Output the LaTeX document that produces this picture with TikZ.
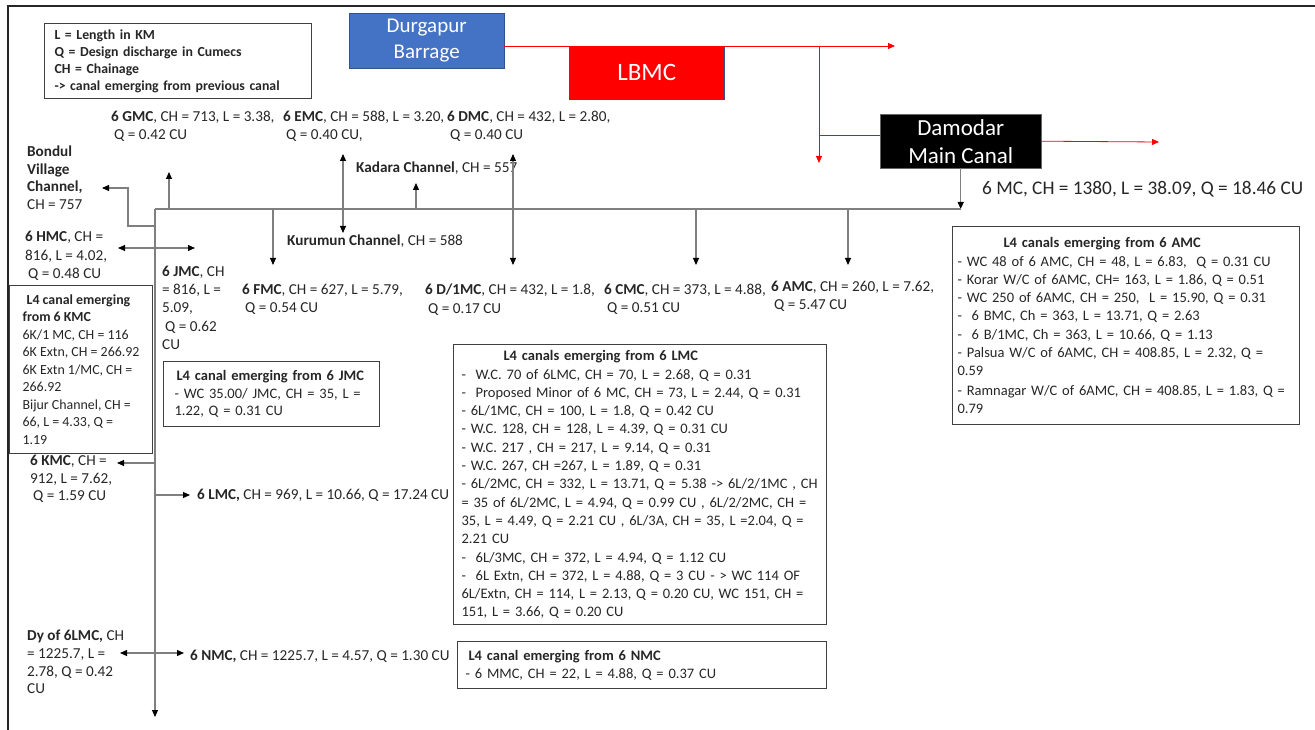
\documentclass[tikz,border=0pt]{standalone}
\usepackage{fontspec}
\setmainfont{Carlito}
\usetikzlibrary{positioning, arrows.meta, calc}

\definecolor{barrageblue}{HTML}{4472C4}
\definecolor{boxedge}{HTML}{2F528F}
\definecolor{linegray}{HTML}{7F7F7F}
\definecolor{txt}{HTML}{262626}

\tikzset{
  >={Triangle[length=7pt,width=6pt,color=black]},
  canal/.style={draw=linegray, line width=1.1pt},
  feed/.style={draw=red, line width=0.8pt, -{Triangle[length=7pt,width=6pt]}},
  lbl/.style={anchor=north west, inner sep=0pt, align=left, text=txt,
    font=\fontsize{15.2}{18.2}\selectfont},
  l4box/.style={draw=black!75, line width=1.1pt, anchor=north west, align=left,
    inner ysep=6pt, text=txt, font=\fontsize{14.5}{18.3}\selectfont},
  headbox/.style={fill=#1, draw=boxedge, text=white, align=center,
    anchor=north west, inner sep=0pt}
}

\begin{document}
\begin{tikzpicture}[x=1pt, y=-1pt]
  \useasboundingbox (0,0) rectangle (1315,730);
  % sheet edge
  \draw[line width=2.5pt, black!85] (8,730) -- (8,6) -- (1315,6);

  % legend
  \node[l4box, font=\bfseries\fontsize{13.8}{17}\selectfont, inner xsep=10pt,
    text width=247pt, minimum height=70pt] (legend) at (44,23)
    {L = Length in KM\\Q = Design discharge in Cumecs\\CH = Chainage\\-> canal emerging from previous canal};

  % head works
  \node[headbox=barrageblue, minimum width=155pt, minimum height=55pt,
    font=\fontsize{21}{26}\selectfont] (dgb) at (349,13) {Durgapur\\Barrage};
  \node[headbox=red, minimum width=155pt, minimum height=53pt,
    font=\fontsize{25}{30}\selectfont] (lbmc) at (569,46) {LBMC};
  \node[headbox=black, draw=black!60, minimum width=161pt, minimum height=54pt,
    font=\fontsize{23}{28}\selectfont] (damodar) at (880,114) {Damodar\\Main Canal};

  \coordinate (rstart) at (dgb.east |- lbmc.north);
  \coordinate (rend) at (895,46);
  \coordinate (rsplit) at (819,46);
  \coordinate (rdown) at (819,163);
  \coordinate (rjoin) at (819,135);
  \coordinate (rout) at (1159,142);
  \draw[feed] (rstart) -- (rend);
  \draw[feed] (rsplit) -- (rdown);
  \draw[red, line width=0.8pt] (rjoin) -- (rjoin -| damodar.west);
  \draw[feed] (damodar.east) -- (rout);

  \node[lbl, font=\fontsize{19.3}{23}\selectfont] (mc) at (982,181) {6 MC, CH = 1380, L = 38.09, Q = 18.46 CU};

  % main canal
  \coordinate (top) at (155,209);
  \coordinate (mcend) at (damodar.south |- top);
  \coordinate (bottom) at (155,717);
  \draw[canal,->] (damodar.south) -- (mcend);
  \draw[canal] (mcend) -- (top);
  \draw[canal,->] (top) -- (bottom);

  % branches
  \node[lbl] (gmc) at (111,111) {\textbf{6 GMC}, CH = 713, L = 3.38,\\\hspace*{3pt}Q = 0.42 CU};
  \node[lbl] (emc) at (283,111) {\textbf{6 EMC}, CH = 588, L = 3.20,\\\hspace*{3pt}Q = 0.40 CU,};
  \node[lbl] (dmc) at (447,111) {\textbf{6 DMC}, CH = 432, L = 2.80,\\\hspace*{3pt}Q = 0.40 CU};
  \node[lbl, font=\fontsize{15.2}{17.5}\selectfont] (bondul) at (27,146)
    {\textbf{Bondul}\\\textbf{Village}\\\textbf{Channel,}\\CH = 757};
  \node[lbl] (kadara) at (356,162) {\textbf{Kadara Channel}, CH = 557};
  \node[lbl] (kurumun) at (287,235) {\textbf{Kurumun Channel}, CH = 588};
  \node[lbl, font=\fontsize{15.2}{18.5}\selectfont] (hmc) at (25,231) {\textbf{6 HMC}, CH =\\816, L = 4.02,\\\hspace*{3pt}Q = 0.48 CU};
  \node[lbl] (jmc) at (162,266) {\textbf{6 JMC}, CH\\= 816, L =\\5.09,\\\hspace*{3pt}Q = 0.62\\CU};
  \node[lbl] (fmc) at (242,284) {\textbf{6 FMC}, CH = 627, L = 5.79,\\\hspace*{3pt}Q = 0.54 CU};
  \node[lbl] (dlmc) at (425,284) {\textbf{6 D/1MC}, CH = 432, L = 1.8,\\\hspace*{3pt}Q = 0.17 CU};
  \node[lbl] (cmc) at (604,284) {\textbf{6 CMC}, CH = 373, L = 4.88,\\\hspace*{3pt}Q = 0.51 CU};
  \node[lbl] (amc) at (771,281) {\textbf{6 AMC}, CH = 260, L = 7.62,\\\hspace*{3pt}Q = 5.47 CU};
  \node[lbl, font=\fontsize{15.2}{17.5}\selectfont] (kmc) at (30,455) {\textbf{6 KMC}, CH =\\912, L = 7.62,\\\hspace*{3pt}Q = 1.59 CU};
  \node[lbl] (lmc) at (197,489) {\textbf{6 LMC,} CH = 969, L = 10.66, Q = 17.24 CU};
  \node[lbl, font=\fontsize{15.2}{17.7}\selectfont] (dy) at (27,630)
    {\textbf{Dy of 6LMC,} CH\\= 1225.7, L =\\2.78, Q = 0.42\\CU};
  \node[lbl] (nmc) at (190,650) {\textbf{6 NMC,} CH = 1225.7, L = 4.57, Q = 1.30 CU};

  \foreach \n/\x/\ya/\yb in {gmc/169/209/172, kadara/416/209/183, fmc/273/209/265,
      cmc/696/209/265, amc/848/209/265, kmc/155/463/463, lmc/155/495/495}{
    \coordinate (\n-s) at (\x,\ya);
  }
  \coordinate (gmc-e) at (169,172);
  \coordinate (kadara-e) at (416,183);
  \coordinate (fmc-e) at (273,265);
  \coordinate (cmc-e) at (696,265);
  \coordinate (amc-e) at (848,265);
  \coordinate (kmc-e) at (117,463);
  \coordinate (lmc-e) at (190,495);
  \foreach \n in {gmc, kadara, fmc, cmc, amc, kmc, lmc}
    \draw[canal,->] (\n-s) -- (\n-e);

  \coordinate (emc-u) at (343,154);
  \coordinate (emc-d) at (343,233);
  \coordinate (dmc-u) at (513,154);
  \coordinate (dmc-d) at (513,265);
  \coordinate (hmc-l) at (118,248);
  \coordinate (hmc-r) at (195,248);
  \coordinate (dy-l) at (120,653);
  \coordinate (dy-r) at (184,653);
  \foreach \a/\b in {emc-u/emc-d, dmc-u/dmc-d, hmc-l/hmc-r, dy-l/dy-r}
    \draw[canal,<->] (\a) -- (\b);

  \coordinate (bondul-s) at (155,226);
  \coordinate (bondul-e) at (102,188);
  \draw[canal,->] (bondul-s) -- ++(-27,0) |- (bondul-e);

  % L4 boxes
  \node[l4box, inner xsep=5pt, text width=337pt, minimum height=198pt] (amcl4) at (952,226)
    {\hspace*{46pt}\textbf{L4 canals emerging from 6 AMC}\\
     - WC 48 of 6 AMC, CH = 48, L = 6.83,\ \ Q = 0.31 CU\\
     - Korar W/C of 6AMC, CH= 163, L = 1.86, Q = 0.51\\
     - WC 250 of 6AMC, CH = 250,\ \ L = 15.90, Q = 0.31\\
     -\ \ 6 BMC, Ch = 363, L = 13.71, Q = 2.63\\
     -\ \ 6 B/1MC, Ch = 363, L = 10.66, Q = 1.13\\
     - Palsua W/C of 6AMC, CH = 408.85, L = 2.32, Q =\\
     0.59\\[1pt]
     - Ramnagar W/C of 6AMC, CH = 408.85, L = 1.83, Q =\\
     0.79};
  \node[l4box, inner xsep=5pt, text width=363pt, minimum height=278pt] (lmcl4) at (453,344)
    {\hspace*{45pt}\textbf{L4 canals emerging from 6 LMC}\\
     \hspace*{3pt}-\ \ W.C. 70 of 6LMC, CH = 70, L = 2.68, Q = 0.31\\
     \hspace*{3pt}-\ \ Proposed Minor of 6 MC, CH = 73, L = 2.44, Q = 0.31\\
     \hspace*{3pt}- 6L/1MC, CH = 100, L = 1.8, Q = 0.42 CU\\
     \hspace*{3pt}- W.C. 128, CH = 128, L = 4.39, Q = 0.31 CU\\
     \hspace*{3pt}- W.C. 217 , CH = 217, L = 9.14, Q = 0.31\\
     \hspace*{3pt}- W.C. 267, CH =267, L = 1.89, Q = 0.31\\
     \hspace*{3pt}- 6L/2MC, CH = 332, L = 13.71, Q = 5.38 -> 6L/2/1MC , CH\\
     \hspace*{3pt}= 35 of 6L/2MC, L = 4.94, Q = 0.99 CU , 6L/2/2MC, CH =\\
     \hspace*{3pt}35, L = 4.49, Q = 2.21 CU , 6L/3A, CH = 35, L =2.04, Q =\\
     \hspace*{3pt}2.21 CU\\
     \hspace*{3pt}-\ \ 6L/3MC, CH = 372, L = 4.94, Q = 1.12 CU\\
     \hspace*{3pt}-\ \ 6L Extn, CH = 372, L = 4.88, Q = 3 CU - > WC 114 OF\\
     \hspace*{3pt}6L/Extn, CH = 114, L = 2.13, Q = 0.20 CU, WC 151, CH =\\
     \hspace*{3pt}151, L = 3.66, Q = 0.20 CU};
  \node[l4box, font=\fontsize{13.9}{17.5}\selectfont, minimum width=143pt,
    minimum height=168pt] (kmcl4) at (9,285)
    {\hspace*{4pt}\textbf{L4 canal emerging}\\\textbf{from 6 KMC}\\6K/1 MC, CH = 116\\
     6K Extn, CH = 266.92\\6K Extn 1/MC, CH =\\266.92\\Bijur Channel, CH =\\66, L = 4.33, Q =\\1.19};
  \node[l4box, font=\fontsize{14.5}{17.5}\selectfont, inner xsep=11pt, text width=194pt,
    minimum height=65pt] (jmcl4) at (163,361)
    {\hspace*{2pt}\textbf{L4 canal emerging from 6 JMC}\\- WC 35.00/ JMC, CH = 35, L =\\1.22, Q = 0.31 CU};
  \node[l4box, inner xsep=8pt, text width=353pt, minimum height=47pt] (nmcl4) at (457,641)
    {\hspace*{3pt}\textbf{L4 canal emerging from 6 NMC}\\- 6 MMC, CH = 22, L = 4.88, Q = 0.37 CU};
\end{tikzpicture}
\end{document}
